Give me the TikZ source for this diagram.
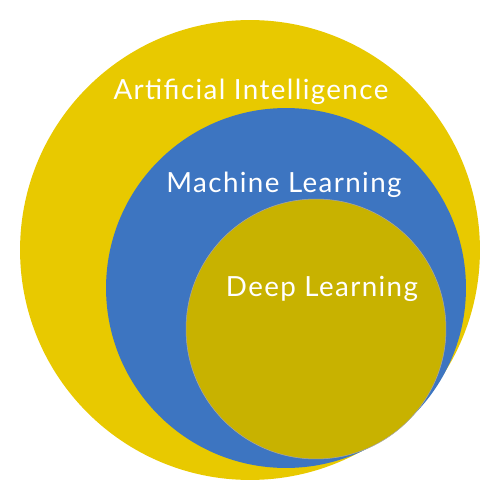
\documentclass[tikz,border=0pt]{standalone}
\usepackage{fontspec}
\setmainfont{Lato}[LetterSpace=5]
\usetikzlibrary{positioning}
\definecolor{ai}{HTML}{E8C900}
\definecolor{ml}{HTML}{3D75C1}
\definecolor{dl}{HTML}{C8B200}
\tikzset{
  disc/.style={circle, inner sep=0pt, draw=none},
  lbl/.style={text=white, anchor=base, inner sep=0pt, font=\fontsize{15.8}{18}\selectfont},
}
\begin{document}
\begin{tikzpicture}[x=0.02cm,y=-0.02cm]
  \useasboundingbox (0,0) rectangle (500,500);
  \node[disc, fill=ai, minimum size=9.2cm] (aiset) at (250,250) {};
  \node[disc, fill=ml, minimum size=7.2cm] (mlset) at (286,288) {};
  \node[disc, fill=dl, draw=gray!70, line width=0.3pt, minimum size=5.2cm] (dlset) at (316,329) {};
  \node[lbl] (ailbl) at (251,100) {Artificial Intelligence};
  \node[lbl] (mllbl) at (284,192) {Machine Learning};
  \node[lbl] (dllbl) at (322,296) {Deep Learning};
\end{tikzpicture}
\end{document}
